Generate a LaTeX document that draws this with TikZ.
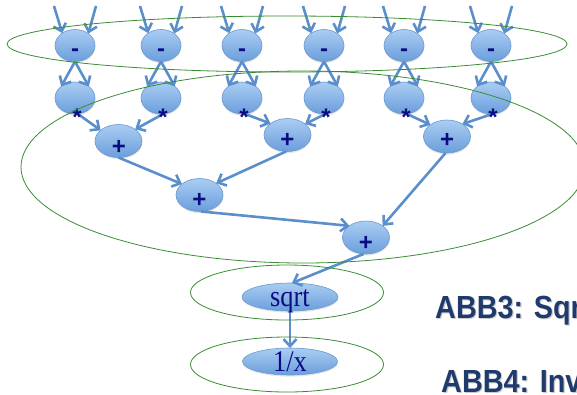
\documentclass[tikz,border=0pt]{standalone}
\usepackage{fontspec}
\setmainfont{Liberation Serif}
\setsansfont{Liberation Sans}
\usetikzlibrary{arrows.meta,shapes.geometric,shadows,calc}

\definecolor{nodetop}{HTML}{AACDF3}
\definecolor{nodebot}{HTML}{6A9EDB}
\definecolor{nodeedge}{HTML}{6A98D0}
\definecolor{flow}{HTML}{5B8FCB}
\definecolor{groupline}{HTML}{3A8C34}
\definecolor{oplabel}{HTML}{0C0C82}
\definecolor{headline}{HTML}{1F3A6C}

\begin{document}
\begin{tikzpicture}[x=1pt,y=-1pt,
  opnode/.style={ellipse, draw=nodeedge, line width=0.6pt, top color=nodetop,
    bottom color=nodebot, inner sep=0pt, outer sep=0pt,
    drop shadow={shadow xshift=0.3pt, shadow yshift=-1.6pt, opacity=0.2}},
  small/.style={opnode, minimum width=40pt, minimum height=32pt},
  addnode/.style={opnode, minimum width=47pt, minimum height=33pt},
  wide/.style={opnode, minimum width=96pt, minimum height=28pt},
  sym/.style={anchor=base, inner sep=0pt, text=oplabel,
    font=\sffamily\bfseries\fontsize{24}{24}\selectfont},
  fn/.style={anchor=base, inner sep=0pt, text=oplabel,
    font=\fontsize{30}{30}\selectfont},
  flowarrow/.style={draw=flow, line width=2.6pt,
    -{Straight Barb[length=7pt,width=13pt]}},
  group/.style={draw=groupline, line width=0.8pt},
  headtext/.style={anchor=base west, inner sep=0pt,
    font=\sffamily\bfseries\fontsize{32}{32}\selectfont},
]
\useasboundingbox (0,0) rectangle (577,394);

% subtraction and product rows
\foreach \i/\x in {1/75,2/161,3/242,4/324,5/404,6/491} {
  \node[small] (m\i) at (\x,45.5) {};
  \node[small] (s\i) at (\x,98) {};
  \coordinate (a\i) at (\x-21,6);
  \coordinate (b\i) at (\x+21,6);
}

% adder tree
\node[addnode] (p1) at (118.5,141) {};
\node[addnode] (p2) at (287.5,135) {};
\node[addnode] (p3) at (447,136.5) {};
\node[addnode] (p4) at (199.5,195) {};
\node[addnode] (p5) at (366,237.5) {};

% square root and inverse
\node[wide] (sq) at (290,297) {};
\node[wide, minimum width=95pt, minimum height=27pt] (ix) at (290,361.5) {};

% connectors
\foreach \i in {1,...,6} {
  \draw[flowarrow] (a\i) -- (m\i.136);
  \draw[flowarrow] (b\i) -- (m\i.42);
  \draw[flowarrow] (m\i.south) -- (s\i.140);
  \draw[flowarrow] (m\i.south) -- (s\i.40);
}
\draw[flowarrow] (s1.-80) -- (p1.149);
\draw[flowarrow] (s2.-82) -- (p1.35);
\draw[flowarrow] (s3.-80) -- (p2.146);
\draw[flowarrow] (s4.-85) -- (p2.32);
\draw[flowarrow] (s5.-80) -- (p3.145);
\draw[flowarrow] (s6.-85) -- (p3.39);
\draw[flowarrow] (p1.south) -- (p4.148);
\draw[flowarrow] (p2.265) -- (p4.35);
\draw[flowarrow] (p4.275) -- (p5.145);
\draw[flowarrow] (p3.265) -- (p5.35);
\draw[flowarrow] (p5.262) -- (sq.82);
\draw[flowarrow] (sq.south) -- (ix.north);

% operator symbols
\foreach \i/\x in {1/75,2/161,3/242,4/324,5/404,6/491} {
  \node[sym] (m\i l) at (\x,56.2) {-};
  \node[sym] (s\i l) at (\x+2,125.2) {*};
}
\node[sym] (p1l) at (119,154.6) {+};
\node[sym] (p2l) at (287.5,147) {+};
\node[sym] (p3l) at (447,147) {+};
\node[sym] (p4l) at (199.5,207) {+};
\node[sym] (p5l) at (366,250) {+};
\node[fn] (sql) at (290,306.7) {\scalebox{0.88}[1]{sqrt}};
\node[fn] (ixl) at (290,371.7) {\scalebox{0.88}[1]{1/x}};

% grouping outlines
\draw[group] (287,44) ellipse [x radius=280pt, y radius=28pt];
\draw[group] (303,167) ellipse [x radius=282pt, y radius=96pt];
\draw[group] (287,292.5) ellipse [x radius=96.5pt, y radius=27.5pt];
\draw[group] (287,364.5) ellipse [x radius=96.5pt, y radius=27.5pt];

% captions, each with a faint offset shadow
\node[headtext, text=black, opacity=0.2] (h3s) at (436.2,319.2) {\scalebox{0.9}[1]{ABB3: Sqr}};
\node[headtext, text=headline] (h3) at (435,318) {\scalebox{0.9}[1]{ABB3: Sqr}};
\node[headtext, text=black, opacity=0.2] (h4s) at (442.2,393.2) {\scalebox{0.9}[1]{ABB4: Inv}};
\node[headtext, text=headline] (h4) at (441,392) {\scalebox{0.9}[1]{ABB4: Inv}};
\end{tikzpicture}
\end{document}
